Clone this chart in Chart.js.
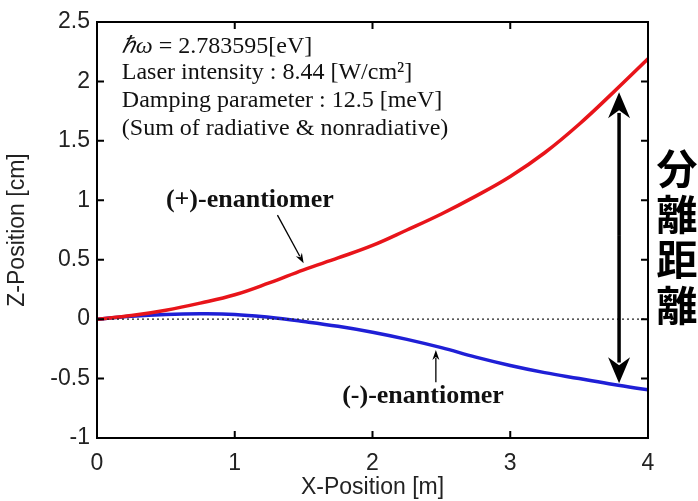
<!DOCTYPE html>
<html lang="ja">
  <head>
    <meta charset="UTF-8" />
    <title>Z-Position vs X-Position</title>
    <script src="https://cdn.jsdelivr.net/npm/chart.js@4.4.0/dist/chart.umd.min.js"></script>
    <style>
      html, body { margin: 0; padding: 0; background: #fff; }
      #wrap { width: 698px; height: 501px; }
    </style>
  </head>
  <body>
    <div id="wrap"><canvas id="c"></canvas></div>
    <script>
      // x positions [m]
      const xPos = [0, 0.25, 0.5, 0.75, 1, 1.25, 1.5, 1.75, 2, 2.25, 2.5, 2.75, 3, 3.25, 3.5, 3.75, 4];
      // (+)-enantiomer Z [cm]
      const plusZ = [0, 0.03, 0.075, 0.135, 0.205, 0.305, 0.415, 0.515, 0.62, 0.75, 0.885, 1.035, 1.2, 1.4, 1.64, 1.91, 2.19];
      // (-)-enantiomer Z [cm]
      const minusZ = [0, 0.025, 0.04, 0.045, 0.04, 0.015, -0.02, -0.06, -0.11, -0.17, -0.24, -0.32, -0.39, -0.45, -0.5, -0.55, -0.595];
      const zeroX = [0, 4];
      const zeroZ = [0, 0];
      const xTicks = [0, 1, 2, 3, 4];
      const yTicks = [-1, -0.5, 0, 0.5, 1, 1.5, 2, 2.5];

      const toPts = (xs, ys) => xs.map((x, i) => ({ x: x, y: ys[i] }));

      // 注釈・矢印・枠
      const notes = {
        id: "notes",
        afterDatasetsDraw(chart) {
          const { ctx, chartArea: a, scales } = chart;
          const X = (v) => scales.x.getPixelForValue(v);
          const Y = (v) => scales.y.getPixelForValue(v);
          ctx.save();

          // inward ticks on all four sides
          ctx.strokeStyle = "#000";
          ctx.lineWidth = 2;
          ctx.beginPath();
          xTicks.forEach((t) => {
            const px = X(t);
            ctx.moveTo(px, a.bottom); ctx.lineTo(px, a.bottom - 7);
            ctx.moveTo(px, a.top); ctx.lineTo(px, a.top + 7);
          });
          yTicks.forEach((t) => {
            const py = Y(t);
            ctx.moveTo(a.left, py); ctx.lineTo(a.left + 7, py);
            ctx.moveTo(a.right, py); ctx.lineTo(a.right - 7, py);
          });
          ctx.stroke();
          ctx.strokeRect(a.left, a.top, a.right - a.left, a.bottom - a.top);

          // parameter text
          ctx.fillStyle = "#111";
          ctx.textBaseline = "middle";
          ctx.textAlign = "left";
          ctx.font = "italic 24px 'Liberation Serif'";
          ctx.fillText("ℏω", X(0.18), Y(2.29));
          const w = ctx.measureText("ℏω").width;
          ctx.font = "24px 'Liberation Serif'";
          ctx.fillText(" = 2.783595[eV]", X(0.18) + w, Y(2.29));
          ctx.fillText("Laser intensity : 8.44 [W/cm²]", X(0.18), Y(2.075));
          ctx.fillText("Damping parameter : 12.5 [meV]", X(0.18), Y(1.84));
          ctx.fillText("(Sum of radiative & nonradiative)", X(0.18), Y(1.605));

          // enantiomer labels
          ctx.font = "bold 26px 'Liberation Serif'";
          ctx.fillText("(+)-enantiomer", X(0.5), Y(1.0));
          ctx.fillText("(-)-enantiomer", X(1.78), Y(-0.65));

          const arrow = (x1, y1, x2, y2, lw, hl, hw) => {
            const ang = Math.atan2(y2 - y1, x2 - x1);
            ctx.lineWidth = lw;
            ctx.beginPath();
            ctx.moveTo(x1, y1);
            ctx.lineTo(x2 - Math.cos(ang) * hl * 0.8, y2 - Math.sin(ang) * hl * 0.8);
            ctx.stroke();
            ctx.beginPath();
            ctx.moveTo(x2, y2);
            ctx.lineTo(x2 - Math.cos(ang) * hl + Math.sin(ang) * hw / 2, y2 - Math.sin(ang) * hl - Math.cos(ang) * hw / 2);
            ctx.lineTo(x2 - Math.cos(ang) * hl * 0.7, y2 - Math.sin(ang) * hl * 0.7);
            ctx.lineTo(x2 - Math.cos(ang) * hl - Math.sin(ang) * hw / 2, y2 - Math.sin(ang) * hl + Math.cos(ang) * hw / 2);
            ctx.closePath();
            ctx.fill();
          };
          ctx.strokeStyle = "#000";
          ctx.fillStyle = "#000";
          arrow(X(1.31), Y(0.875), X(1.5), Y(0.47), 1.3, 10, 7);
          arrow(X(2.46), Y(-0.53), X(2.46), Y(-0.26), 1.3, 10, 7);

          // separation double arrow
          const ax = X(3.79);
          arrow(ax, Y(0.7), ax, Y(1.91), 3.5, 26, 22);
          arrow(ax, Y(0.7), ax, Y(-0.54), 3.5, 26, 22);

          // 分離距離
          ctx.fillStyle = "#000";
          ctx.textAlign = "center";
          ctx.font = "bold 41px 'Noto Sans CJK JP'";
          ["分", "離", "距", "離"].forEach((ch, i) => {
            ctx.fillText(ch, X(4.21), Y(1.27 - i * 0.385));
          });
          ctx.restore();
        },
      };

      new Chart(document.getElementById("c"), {
        type: "scatter",
        data: {
          datasets: [
            {
              data: toPts(zeroX, zeroZ),
              showLine: true,
              borderColor: "#222",
              borderWidth: 1.2,
              borderDash: [2, 3],
              pointRadius: 0,
            },
            {
              label: "(+)-enantiomer",
              data: toPts(xPos, plusZ),
              showLine: true,
              borderColor: "#e8141a",
              borderWidth: 3.5,
              tension: 0.4,
              pointRadius: 0,
            },
            {
              label: "(-)-enantiomer",
              data: toPts(xPos, minusZ),
              showLine: true,
              borderColor: "#1f1fd6",
              borderWidth: 3.5,
              tension: 0.4,
              pointRadius: 0,
            },
          ],
        },
        options: {
          responsive: true,
          maintainAspectRatio: false,
          animation: false,
          layout: { padding: { top: 22, right: 50, left: 0, bottom: 0 } },
          plugins: { legend: { display: false }, tooltip: { enabled: false } },
          scales: {
            x: {
              type: "linear",
              min: 0,
              max: 4,
              afterBuildTicks: (s) => { s.ticks = xTicks.map((v) => ({ value: v })); },
              afterFit: (s) => { s.height = 63; },
              grid: { display: false, drawTicks: false },
              border: { display: false },
              ticks: {
                color: "#222",
                padding: 12,
                font: { family: "Liberation Sans", size: 23 },
                callback: (v) => String(v),
              },
              title: {
                display: true,
                text: "X-Position [m]",
                color: "#222",
                padding: { top: 5, bottom: 0 },
                font: { family: "Liberation Sans", size: 23 },
              },
            },
            y: {
              min: -1,
              max: 2.5,
              afterBuildTicks: (s) => { s.ticks = yTicks.map((v) => ({ value: v })); },
              afterFit: (s) => { s.width = 97; },
              grid: { display: false, drawTicks: false },
              border: { display: false },
              ticks: {
                color: "#222",
                padding: 7,
                font: { family: "Liberation Sans", size: 23 },
                callback: (v) => String(v),
              },
              title: {
                display: true,
                text: "Z-Position [cm]",
                color: "#222",
                font: { family: "Liberation Sans", size: 23 },
              },
            },
          },
        },
        plugins: [notes],
      });
    </script>
  </body>
</html>
